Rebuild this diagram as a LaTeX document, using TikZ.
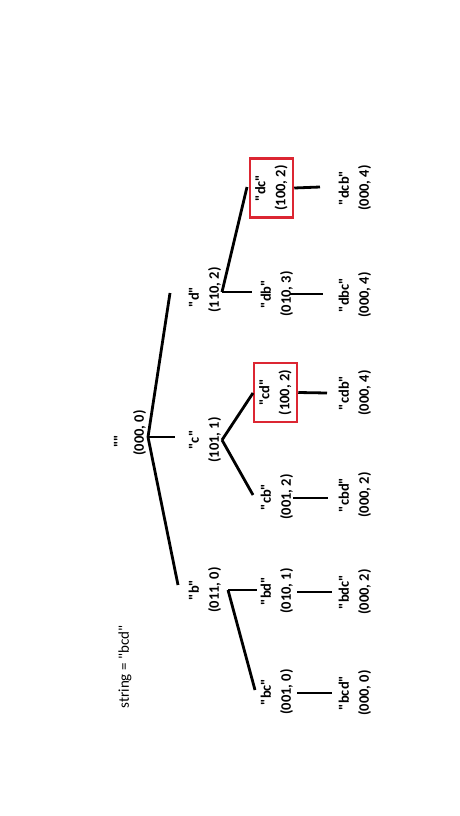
\documentclass[tikz,border=0pt]{standalone}
\usepackage{fontspec}
\setmainfont{Carlito}[Ligatures=TeXOff]
\definecolor{hitred}{RGB}{220,38,50}
\begin{document}
\begin{tikzpicture}[x=1pt,y=-1pt,
  lbl/.style={rotate=90, align=center, inner sep=0pt,
    font=\bfseries\fontsize{14.5}{20}\selectfont},
  hit/.style={lbl, draw=hitred, line width=2.5pt,
    minimum width=59pt, minimum height=43pt},
  note/.style={rotate=90, inner sep=0pt, font=\fontsize{15}{18}\selectfont},
  edge/.style={line width=2.8pt}]
\path[use as bounding box, fill=white] (0,0) rectangle (460,816);

% caption
\node[note] (caption) at (125,667) {string = "bcd"};

% root
\node[lbl] (root) at (130,433) {""\kern16pt\\(000, 0)};

% first level
\node[lbl] (d) at (205,290) {"d"\kern14pt\\(110, 2)};
\node[lbl] (c) at (205,440) {"c"\\(101, 1)};
\node[lbl] (b) at (205,590) {"b"\\(011, 0)};

% second level
\node[hit] (dc) at (271.5,188) {"dc"\\(100, 2)};
\node[lbl] (db) at (277,294) {"db"\\(010, 3)};
\node[hit] (cd) at (275.5,392.5) {"cd"\\(100, 2)};
\node[lbl] (cb) at (277,497) {"cb"\\(001, 2)};
\node[lbl] (bd) at (277,591) {"bd"\\(010, 1)};
\node[lbl] (bc) at (277,692) {"bc"\\(001, 0)};

% third level
\node[lbl] (dcb) at (355,188) {"dcb"\\(000, 4)};
\node[lbl] (dbc) at (355,295) {"dbc"\\(000, 4)};
\node[lbl] (cdb) at (355,393) {"cdb"\\(000, 4)};
\node[lbl] (cbd) at (355,495) {"cbd"\\(000, 2)};
\node[lbl] (bdc) at (355,592) {"bdc"\\(000, 2)};
\node[lbl] (bcd) at (355,693) {"bcd"\\(000, 0)};

% branch points and line ends
\coordinate (jRoot) at (148,437);
\coordinate (toD) at (170,293);
\coordinate (toC) at (175,437);
\coordinate (toB) at (178,585);
\coordinate (jD) at (222,292);
\coordinate (toDC) at (247,187);
\coordinate (toDB) at (252,292);
\coordinate (jC) at (222,440);
\coordinate (toCD) at (253,393);
\coordinate (toCB) at (253,495);
\coordinate (jB) at (228,590);
\coordinate (toBD) at (257,590);
\coordinate (toBC) at (255,690);
\coordinate (toDCB) at (320,187);
\coordinate (fromDB) at (290,294);
\coordinate (toDBC) at (323,294);
\coordinate (toCDB) at (327,393);
\coordinate (fromCB) at (293,498);
\coordinate (toCBD) at (328,498);
\coordinate (fromBD) at (297,592);
\coordinate (toBDC) at (332,592);
\coordinate (fromBC) at (297,693);
\coordinate (toBCD) at (332,693);

% connectors
\draw[edge] (jRoot) -- (toD);
\draw[edge] (jRoot) -- (toC);
\draw[edge] (jRoot) -- (toB);
\draw[edge] (jD) -- (toDC);
\draw[edge] (jD) -- (toDB);
\draw[edge] (jC) -- (toCD);
\draw[edge] (jC) -- (toCB);
\draw[edge] (jB) -- (toBD);
\draw[edge] (jB) -- (toBC);
\draw[edge] (dc.south) -- (toDCB);
\draw[edge] (fromDB) -- (toDBC);
\draw[edge] (cd.south) -- (toCDB);
\draw[edge] (fromCB) -- (toCBD);
\draw[edge] (fromBD) -- (toBDC);
\draw[edge] (fromBC) -- (toBCD);
\end{tikzpicture}
\end{document}
